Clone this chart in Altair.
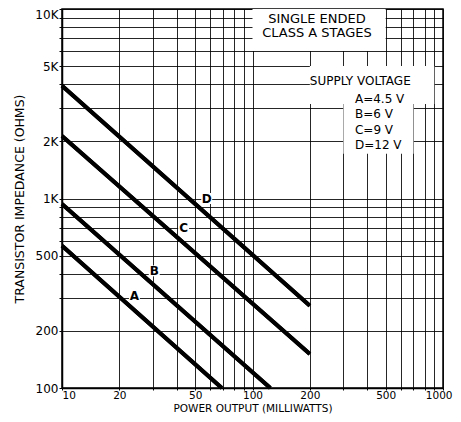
import altair as alt
import pandas as pd

# ---- data ----
curve_names = ["A", "A", "B", "B", "C", "C", "D", "D"]
curve_power = [10, 69, 10, 124, 10, 200, 10, 200]
curve_imped = [564, 100, 935, 100, 2140, 151, 3930, 272]

label_names = ["A", "B", "C", "D"]
label_power = [24, 30.5, 43.5, 57.5]
label_imped = [305, 415, 700, 1000]

x_grid = [10, 20, 30, 40, 50, 60, 70, 80, 90, 100, 200, 300, 400, 500, 600, 700, 800, 900, 1000]
y_grid = [100, 200, 300, 400, 500, 600, 700, 800, 900, 1000, 2000, 3000, 4000, 5000, 6000, 7000, 8000, 9000, 10000]
x_labels = [10, 20, 50, 100, 200, 500, 1000]
y_labels = [100, 200, 500, 1000, 2000, 5000, 10000]

# white panels carrying the notes
box_x1 = [100, 200, 300]
box_x2 = [500, 900, 700]
box_y1 = [6000, 3150, 1720]
box_y2 = [10000, 5000, 3500]

note_text = ["SINGLE ENDED", "CLASS A STAGES", "SUPPLY  VOLTAGE", "A=4.5 V", "B=6 V", "C=9 V", "D=12 V"]
note_power = [218, 218, 200, 345, 345, 345, 345]
note_imped = [8850, 7450, 4150, 3350, 2780, 2300, 1905]
note_align = ["center", "center", "left", "left", "left", "left", "left"]

FONT = "DejaVu Sans"

curves = pd.DataFrame({"name": curve_names, "p": curve_power, "r": curve_imped})
labels = pd.DataFrame({"name": label_names, "p": label_power, "r": label_imped})
boxes = pd.DataFrame({"x1": box_x1, "x2": box_x2, "y1": box_y1, "y2": box_y2})
notes = pd.DataFrame({"t": note_text, "p": note_power, "r": note_imped, "a": note_align})

xscale = alt.Scale(type="log", domain=[10, 1000], nice=False)
yscale = alt.Scale(type="log", domain=[100, 10000], nice=False)

xlab_expr = "indexof([" + ",".join(str(v) for v in x_labels) + "], datum.value) >= 0 ? datum.value : ''"
ylab_expr = ("indexof([" + ",".join(str(v) for v in y_labels) + "], datum.value) >= 0 ? "
             "(datum.value >= 1000 ? (datum.value/1000) + 'K' : datum.value) : ''")

x_enc = alt.X("p:Q", scale=xscale, title="POWER OUTPUT (MILLIWATTS)",
              axis=alt.Axis(values=x_grid, labelExpr=xlab_expr, grid=True,
                            tickSize=2, labelPadding=0, labelFontSize=10.5,
                            titleY=23.5, titleBaseline="alphabetic", titleFontSize=10.5,
                            labelAlign=alt.ExprRef(
                                expr="datum.value == 10 ? 'left' : (datum.value == 1000 ? 'right' : 'center')"),
                            labelOffset=alt.ExprRef(expr="datum.value == 1000 ? 9 : 0")))
y_enc = alt.Y("r:Q", scale=yscale, title="TRANSISTOR  IMPEDANCE (OHMS)",
              axis=alt.Axis(values=y_grid, labelExpr=ylab_expr, grid=True,
                            tickSize=3, titlePadding=8, labelPadding=1,
                            labelBaseline=alt.ExprRef(expr="datum.value == 10000 ? 'top' : 'middle'")))

rects = alt.Chart(boxes).mark_rect(fill="white").encode(
    x=alt.X("x1:Q", scale=xscale), x2="x2:Q",
    y=alt.Y("y1:Q", scale=yscale), y2="y2:Q")

lines = alt.Chart(curves).mark_line(color="black", strokeWidth=4).encode(
    x=x_enc, y=y_enc, detail="name:N")

label_bg = alt.Chart(labels).mark_point(shape="square", filled=True, color="white",
                                        size=120, opacity=1).encode(
    x=alt.X("p:Q", scale=xscale), y=alt.Y("r:Q", scale=yscale))

label_txt = alt.Chart(labels).mark_text(font=FONT, fontSize=12, fontWeight="bold",
                                        color="black").encode(
    x=alt.X("p:Q", scale=xscale), y=alt.Y("r:Q", scale=yscale), text="name:N")

note_c = alt.Chart(notes[notes.a == "center"]).mark_text(
    font=FONT, fontSize=13, color="black", align="center").encode(
    x=alt.X("p:Q", scale=xscale), y=alt.Y("r:Q", scale=yscale), text="t:N")
note_l = alt.Chart(notes[notes.a == "left"]).mark_text(
    font=FONT, fontSize=12, color="black", align="left").encode(
    x=alt.X("p:Q", scale=xscale), y=alt.Y("r:Q", scale=yscale), text="t:N")

chart = alt.layer(lines, rects, lines, label_bg, label_txt, note_c, note_l).properties(
    width=381, height=379,
    autosize=alt.AutoSizeParams(type="none"),
    padding={"left": 54, "top": 1, "right": 10, "bottom": 26},
    background="white",
).configure_axis(
    labelFont=FONT, labelFontSize=12, labelColor="black",
    titleFont=FONT, titleFontSize=12.5, titleFontWeight="normal", titleColor="black",
    gridColor="black", gridWidth=1, gridOpacity=0.85,
    domainColor="black", domainWidth=1.5, tickColor="black",
).configure_view(stroke="black", strokeWidth=1.5)

chart.save("out.html", embed_options={"renderer": "svg", "actions": False})
